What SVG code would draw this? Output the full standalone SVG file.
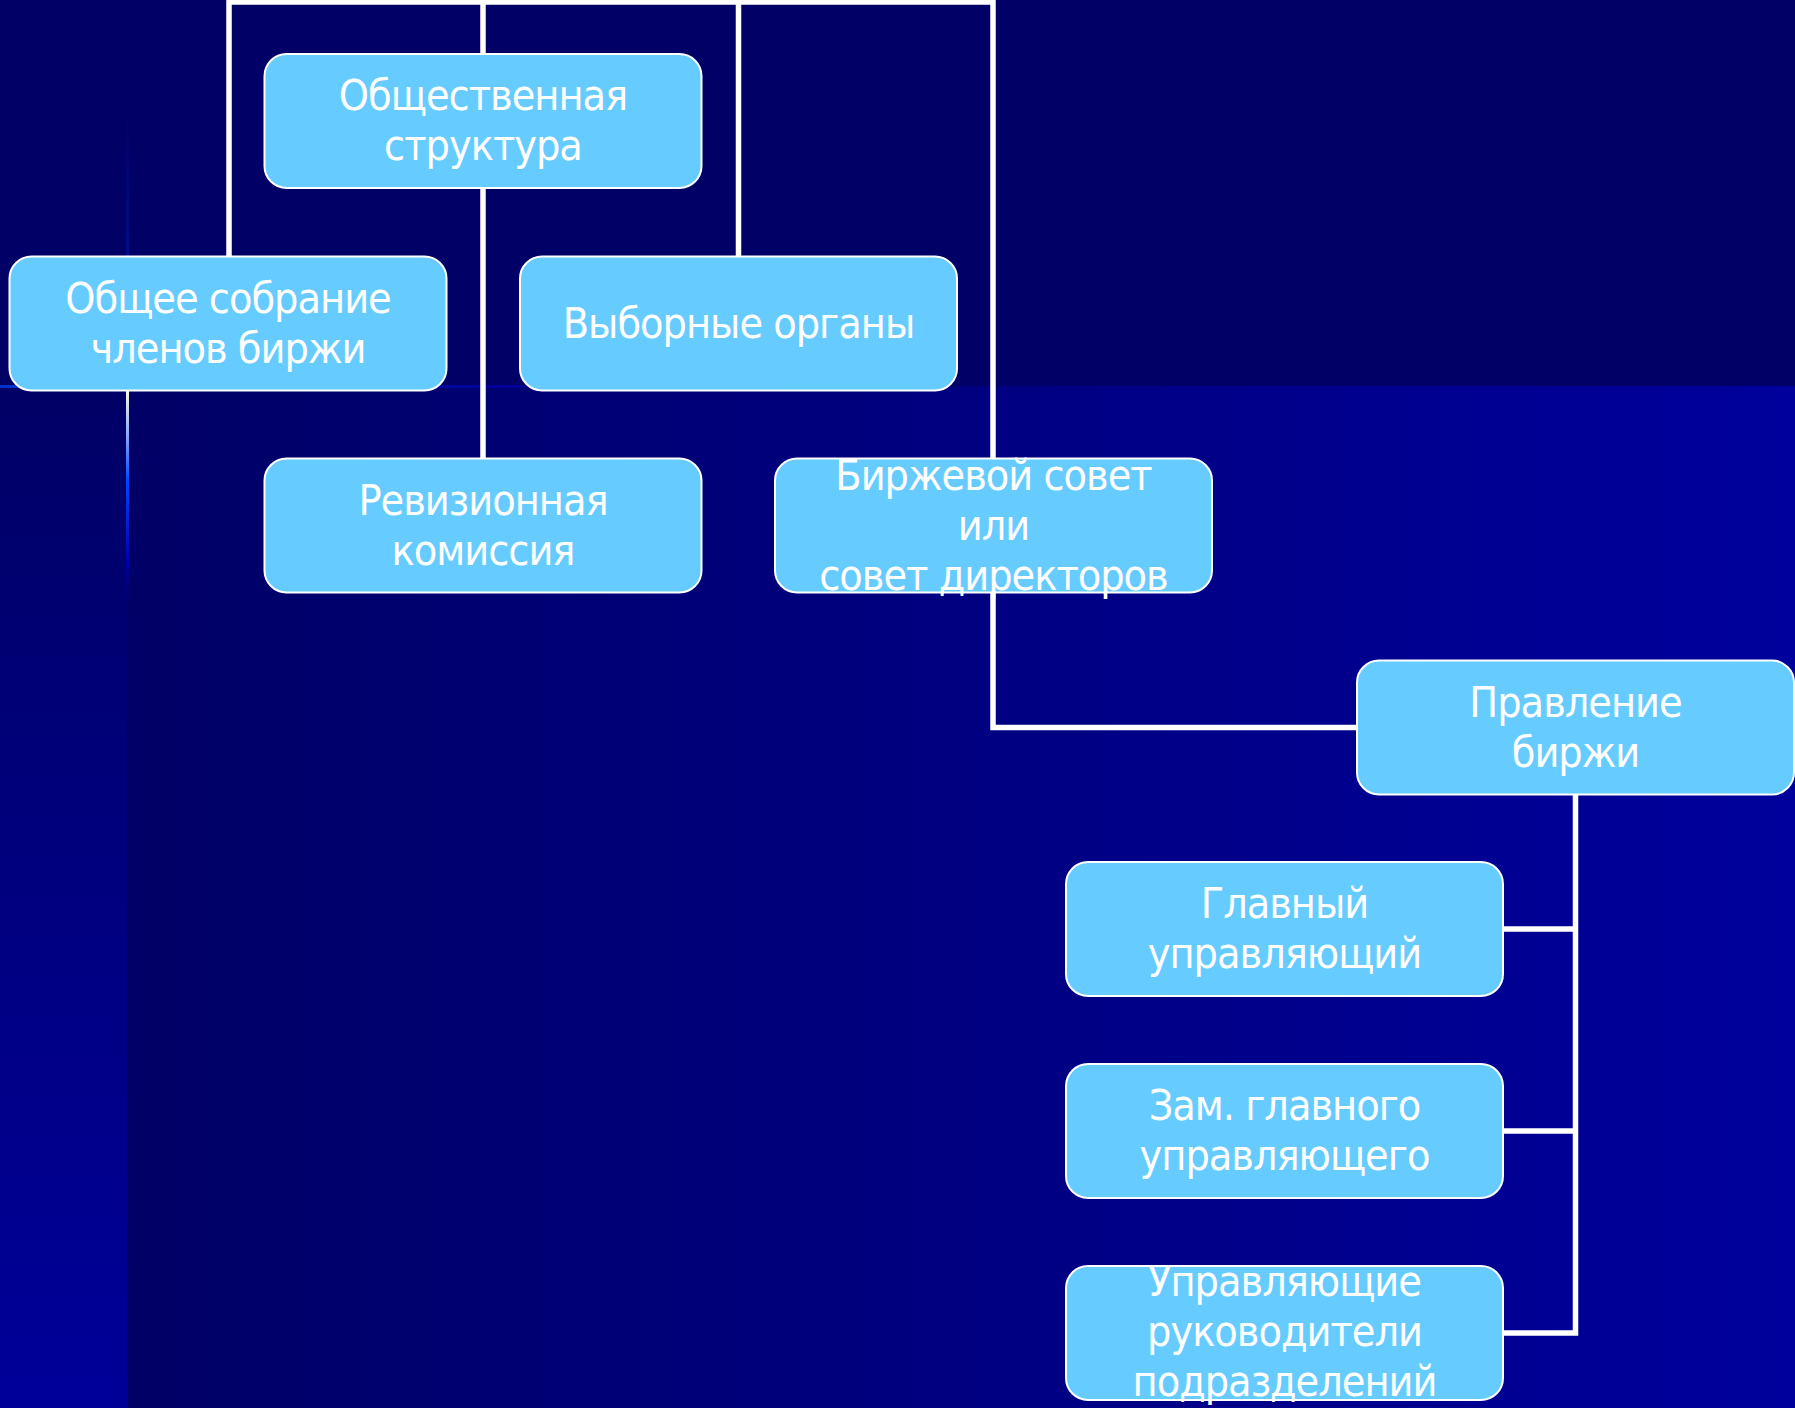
<svg xmlns="http://www.w3.org/2000/svg" width="1795" height="1408" viewBox="0 0 1795 1408">
<defs>
<linearGradient id="gLow" x1="0" y1="0" x2="1" y2="0">
<stop offset="0" stop-color="#000066"/>
<stop offset="1" stop-color="#00009c"/>
</linearGradient>
<linearGradient id="gStrip" x1="0" y1="0" x2="0" y2="1">
<stop offset="0" stop-color="#000066"/>
<stop offset="1" stop-color="#000099"/>
</linearGradient>
<linearGradient id="gHLine" x1="0" y1="0" x2="1" y2="0">
<stop offset="0" stop-color="#0033cc"/>
<stop offset="0.45" stop-color="#000099"/>
<stop offset="1" stop-color="#000066" stop-opacity="0"/>
</linearGradient>
<linearGradient id="gVTop" x1="0" y1="0" x2="0" y2="1">
<stop offset="0" stop-color="#000066" stop-opacity="0"/>
<stop offset="1" stop-color="#0022bb"/>
</linearGradient>
<linearGradient id="gVLow" x1="0" y1="0" x2="0" y2="1">
<stop offset="0" stop-color="#ffffdd"/>
<stop offset="0.2" stop-color="#88aaff"/>
<stop offset="0.4" stop-color="#0044ff"/>
<stop offset="0.75" stop-color="#0000aa"/>
<stop offset="1" stop-color="#000066" stop-opacity="0"/>
</linearGradient>
</defs>
<style>
.node rect{fill:#66ccff;stroke:#ffffff;stroke-width:2}
.node text{fill:#ffffff;font-family:"DejaVu Sans Condensed","DejaVu Sans",sans-serif;font-stretch:condensed;font-size:42.7px;letter-spacing:-1px;text-anchor:middle}
#connectors path{fill:none;stroke:#ffffff;stroke-width:5.5}
</style>
<g id="background">
<rect x="0" y="0" width="1795" height="1408" fill="#000066"/>
<rect x="127" y="386" width="1668" height="1022" fill="url(#gLow)"/>
<rect x="0" y="386" width="127" height="1022" fill="url(#gStrip)"/>
<rect x="0" y="385" width="1100" height="3" fill="url(#gHLine)"/>
<rect x="126" y="30" width="3" height="356" fill="url(#gVTop)"/>
<rect x="126" y="389" width="3" height="230" fill="url(#gVLow)"/>
</g>
<g id="connectors">
<path d="M229,257 V2 H993 V459"/>
<path d="M483,2 V54 M483,189 V459"/>
<path d="M738.5,2 V257"/>
<path d="M993,593 V727.5 H1357"/>
<path d="M1575.5,795 V1333 H1503 M1503,929 H1575.5 M1503,1131 H1575.5"/>
</g>
<g id="n1" class="node"><rect x="264.5" y="54" width="437" height="134" rx="22"/><text x="483" y="110">Общественная</text><text x="483" y="160">структура</text></g>
<g id="n2" class="node"><rect x="9.5" y="256.5" width="437" height="134" rx="22"/><text x="228" y="312.5">Общее собрание</text><text x="228" y="362.5">членов биржи</text></g>
<g id="n3" class="node"><rect x="520" y="256.5" width="437" height="134" rx="22"/><text x="738.5" y="337.5">Выборные органы</text></g>
<g id="n4" class="node"><rect x="264.5" y="458.5" width="437" height="134" rx="22"/><text x="483" y="514.5">Ревизионная</text><text x="483" y="564.5">комиссия</text></g>
<g id="n5" class="node"><rect x="775" y="458.5" width="437" height="134" rx="22"/><text x="993.5" y="489.5">Биржевой совет</text><text x="993.5" y="539.5">или</text><text x="993.5" y="589.5">совет директоров</text></g>
<g id="n6" class="node"><rect x="1357" y="660.5" width="437" height="134" rx="22"/><text x="1575.5" y="716.5">Правление</text><text x="1575.5" y="766.5">биржи</text></g>
<g id="n7" class="node"><rect x="1066" y="862" width="437" height="134" rx="22"/><text x="1284.5" y="918">Главный</text><text x="1284.5" y="968">управляющий</text></g>
<g id="n8" class="node"><rect x="1066" y="1064" width="437" height="134" rx="22"/><text x="1284.5" y="1120">Зам. главного</text><text x="1284.5" y="1170">управляющего</text></g>
<g id="n9" class="node"><rect x="1066" y="1266" width="437" height="134" rx="22"/><text x="1284.5" y="1296">Управляющие</text><text x="1284.5" y="1346">руководители</text><text x="1284.5" y="1396">подразделений</text></g>
</svg>
